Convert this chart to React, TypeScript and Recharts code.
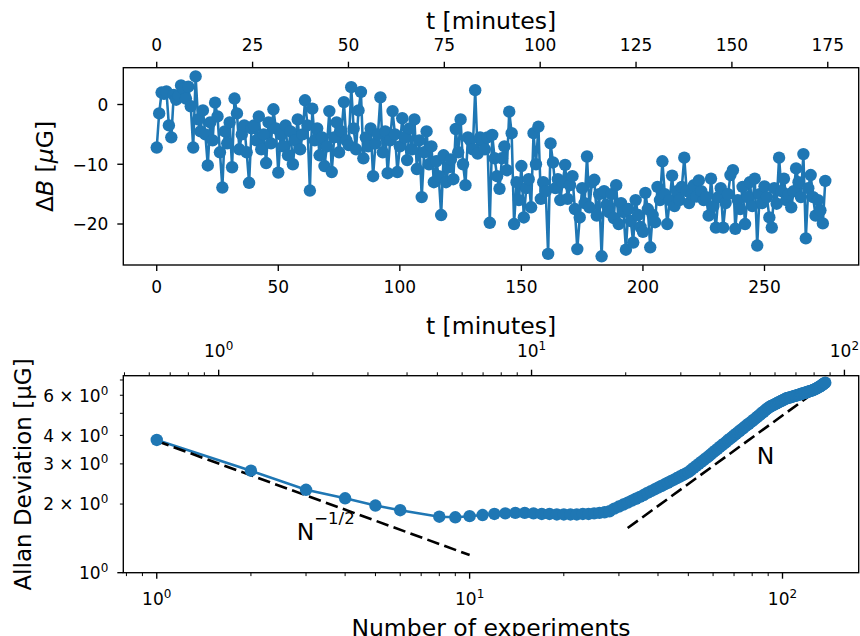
import { ComposedChart, Line, XAxis, YAxis } from 'recharts'

const BLUE = '#1f77b4'
const FONT = 'DejaVu Sans'

// one experiment takes this many minutes (secondary top axes)
const MIN_PER_EXP = 0.634

const deltaB = [
  -7.2, -1.5, 2.0, 1.8, 2.2, -3.5, -5.5, 1.6, 0.8, 1.5,
  3.2, 2.6, 1.0, 3.0, -0.3, -7.2, 4.7, -2.5, -4.5, -1.0,
  -5.0, -10.2, -3.0, -6.0, 0.3, -2.0, -8.0, -13.9, -4.5, -6.5,
  -3.0, -10.5, 1.0, -1.5, -7.5, -5.0, -3.5, -8.0, -13.1, -4.0,
  -3.5, -6.0, -2.0, -7.5, -5.0, -9.8, -3.0, -6.5, -0.8, -4.0,
  -11.4, -5.0, -7.0, -3.5, -8.5, -4.5, -10.0, -6.0, -2.5, -7.5,
  -5.0, 0.7, -3.5, -14.4, -0.7, -6.0, -4.0, -8.5, -5.5, -10.3,
  -7.0, -1.1, -11.3, -5.5, -3.0, -8.0, -4.5, 0.4, -6.0, -6.8,
  2.9, -4.0, -7.5, -1.0, 2.1, -9.0, -5.5, -7.0, -4.0, -12.0,
  -6.5, -5.0, 1.2, -8.0, -4.5, -11.5, -6.0, -1.1, -5.0, -11.3,
  -7.0, -2.3, -5.5, -9.3, -4.0, -7.5, -2.5, -10.8, -6.0, -15.5,
  -8.0, -4.5, -10.0, -7.0, -13.0, -9.5, -12.0, -18.5, -8.5, -13.0,
  -10.5, -9.2, -12.5, -4.1, -8.0, -2.5, -10.0, -13.5, -5.5, -6.0,
  -7.5, 2.4, -8.2, -5.5, -6.0, -7.5, -5.5, -19.8, -5.1, -9.0,
  -12.0, -14.1, -9.0, -7.0, -11.0, -1.2, -4.8, -20.0, -13.0, -16.0,
  -10.3, -18.9, -14.0, -12.5, -17.2, -4.8, -10.0, -3.7, -15.8, -13.0,
  -14.5, -25.0, -6.5, -9.7, -14.0, -12.5, -16.0, -13.0, -10.1, -15.8,
  -13.5, -12.0, -17.5, -24.2, -18.9, -14.0, -16.5, -8.7, -17.2, -13.0,
  -12.6, -18.6, -15.0, -25.4, -14.5, -16.8, -18.0, -15.0, -19.0, -13.5,
  -20.0, -16.5, -18.0, -24.3, -17.5, -19.5, -23.1, -16.0, -18.5, -20.5,
  -21.3, -14.8, -17.5, -23.9, -18.5, -19.7, -13.8, -16.0, -9.5, -15.0,
  -20.0, -16.0, -11.9, -17.0, -14.5, -16.0, -13.8, -8.9, -14.5, -16.5,
  -15.0, -13.5, -15.4, -12.7, -14.5, -16.0, -15.5, -18.6, -12.4, -17.0,
  -20.6, -15.5, -14.0, -20.6, -16.5, -15.0, -11.8, -11.0, -20.8, -16.0,
  -17.5, -13.8, -20.0, -15.5, -13.0, -17.0, -12.4, -23.6, -15.0, -16.5,
  -13.7, -15.5, -18.9, -20.6, -14.0, -16.6, -8.9, -14.5, -12.4, -16.0,
  -15.0, -17.2, -14.5, -10.7, -13.0, -15.5, -8.3, -22.4, -14.0, -11.8,
  -15.5, -18.6, -16.0, -17.7, -19.9, -12.8,
]

// averaging sizes (7 is not in the plot) and the Allan deviation for each
const avgN = [
  1, 2, 3, 4, 5, 6, 8, 9, 10, 11, 12, 13, 14, 15, 16, 17, 18, 19, 20,
  21, 22, 23, 24, 25, 26, 27, 28, 29, 30, 31, 32, 33, 34, 35, 36, 37, 38, 39, 40,
  41, 42, 43, 44, 45, 46, 47, 48, 49, 50, 51, 52, 53, 54, 55, 56, 57, 58, 59, 60,
  61, 62, 63, 64, 65, 66, 67, 68, 69, 70, 71, 72, 73, 74, 75, 76, 77, 78, 79, 80,
  81, 82, 83, 84, 85, 86, 87, 88, 89, 90, 91, 92, 93, 94, 95, 96, 97, 98, 99, 100,
  101, 102, 103, 104, 105, 106, 107, 108, 109, 110, 111, 112, 113, 114, 115, 116, 117, 118, 119, 120,
  121, 122, 123, 124, 125, 126, 127, 128, 129, 130, 131, 132, 133, 134, 135, 136, 137,
]
const allanDev = [
  3.82, 2.80, 2.31, 2.12, 1.97, 1.88, 1.76, 1.75, 1.77, 1.79, 1.81, 1.82, 1.83, 1.83, 1.82, 1.81, 1.81, 1.80, 1.80,
  1.80, 1.80, 1.81, 1.81, 1.82, 1.83, 1.84, 1.86, 1.91, 1.95, 1.99, 2.03, 2.07, 2.11, 2.15, 2.19, 2.24, 2.28, 2.32, 2.36,
  2.40, 2.44, 2.48, 2.52, 2.56, 2.60, 2.64, 2.68, 2.72, 2.76, 2.82, 2.88, 2.94, 3.00, 3.06, 3.12, 3.18, 3.24, 3.30, 3.37,
  3.43, 3.49, 3.56, 3.62, 3.68, 3.74, 3.81, 3.87, 3.93, 4.00, 4.06, 4.12, 4.19, 4.25, 4.31, 4.38, 4.44, 4.50, 4.56, 4.62,
  4.69, 4.75, 4.82, 4.89, 4.95, 5.02, 5.08, 5.15, 5.21, 5.28, 5.34, 5.38, 5.42, 5.46, 5.50, 5.54, 5.58, 5.62, 5.66, 5.70,
  5.74, 5.78, 5.82, 5.84, 5.86, 5.88, 5.90, 5.93, 5.95, 5.97, 5.99, 6.02, 6.04, 6.06, 6.09, 6.11, 6.13, 6.15, 6.18, 6.20,
  6.22, 6.25, 6.27, 6.29, 6.32, 6.35, 6.38, 6.41, 6.45, 6.49, 6.53, 6.57, 6.62, 6.67, 6.71, 6.76, 6.81,
]

// dashed guide lines (end points)
const halfSlopeN = [1, 10]
const halfSlopeDev = [3.78, 1.195]
const unitSlopeN = [32, 134]
const unitSlopeDev = [1.57, 6.55]

// ticks
const topXTicks = [0, 50, 100, 150, 200, 250]
const topTTicks = [0, 25, 50, 75, 100, 125, 150, 175]
const topYTicks = [-20, -10, 0]
const logNTicks = [0.8, 0.9, 1, 2, 3, 4, 5, 6, 7, 8, 9, 10, 20, 30, 40, 50, 60, 70, 80, 90, 100]
const logTTicks = [0.5, 0.6, 0.7, 0.8, 0.9, 1, 2, 3, 4, 5, 6, 7, 8, 9, 10, 20, 30, 40, 50, 60, 70, 80, 90, 100]
const logYTicks = [1, 2, 3, 4, 5, 6, 7]
const logYLabelled = [2, 3, 4, 6]

const topRows = deltaB.map((v, i) => ({ n: i, t: i * MIN_PER_EXP, dB: v }))
const allanRows = avgN.map((n, i) => ({ n, t: n * MIN_PER_EXP, adev: allanDev[i] }))
const halfRows = halfSlopeN.map((n, i) => ({ n, ref: halfSlopeDev[i] }))
const unitRows = unitSlopeN.map((n, i) => ({ n, ref: unitSlopeDev[i] }))

const nDomainTop: [number, number] = [-13.75, 288.75]
const nDomainLog: [number, number] = [0.7818, 175.2]

type Side = 'bottom' | 'top' | 'left'

const isDecade = (v: number) => Math.abs(Math.log10(v) - Math.round(Math.log10(v))) < 1e-9

function linLabel(v: number) {
  return v < 0 ? `\u2212${Math.abs(v)}` : `${v}`
}

function Pow10({ k }: { k: number }) {
  return (
    <>
      10<tspan dy={-7} fontSize={12}>{k}</tspan>
    </>
  )
}

function makeTick(side: Side, kind: 'lin' | 'logx' | 'logy') {
  return (props: any) => {
    const { x, y, payload } = props
    const v: number = payload.value
    let major = true
    let label: any = null
    if (kind === 'lin') {
      label = linLabel(v)
    } else if (kind === 'logx') {
      major = isDecade(v)
      if (major) label = <Pow10 k={Math.round(Math.log10(v))} />
    } else {
      major = v === 1
      if (v === 1) label = <Pow10 k={0} />
      else if (logYLabelled.includes(v)) label = <>{v}{' \u00d7 '}<Pow10 k={0} /></>
    }
    const len = major ? 6 : 3.4
    const sw = major ? 1.36 : 1
    if (side === 'left') {
      return (
        <g>
          <line x1={x - len} x2={x} y1={y} y2={y} stroke="#000" strokeWidth={sw} />
          {label !== null && (
            <text x={x - 15} y={y + 6.3} textAnchor="end" fontSize={17} fontFamily={FONT} fill="#000">
              {label}
            </text>
          )}
        </g>
      )
    }
    const dir = side === 'bottom' ? 1 : -1
    const base = side === 'bottom' ? (kind === 'lin' ? 27.7 : 32.3) : kind === 'lin' ? -17 : -19
    return (
      <g>
        <line x1={x} x2={x} y1={y} y2={y + dir * len} stroke="#000" strokeWidth={sw} />
        {label !== null && (
          <text x={x} y={y + base} textAnchor="middle" fontSize={17} fontFamily={FONT} fill="#000">
            {label}
          </text>
        )}
      </g>
    )
  }
}

const axisCommon = {
  tickSize: 0,
  tickMargin: 0,
  tickLine: false,
  axisLine: false,
  interval: 0 as const,
  allowDataOverflow: true,
}

const dotStyle = { r: 6.2, fill: BLUE, stroke: 'none' }

function TimeSeriesPanel() {
  return (
    <ComposedChart
      width={860}
      height={300}
      data={topRows}
      margin={{ top: 37.7, right: 1.3, bottom: 5, left: 63.3 }}
    >
      <XAxis
        xAxisId="b"
        dataKey="n"
        type="number"
        domain={nDomainTop}
        ticks={topXTicks}
        height={30}
        tick={makeTick('bottom', 'lin')}
        {...axisCommon}
      />
      <XAxis
        xAxisId="t"
        dataKey="t"
        orientation="top"
        type="number"
        domain={[nDomainTop[0] * MIN_PER_EXP, nDomainTop[1] * MIN_PER_EXP]}
        ticks={topTTicks}
        height={30}
        tick={makeTick('top', 'lin')}
        {...axisCommon}
      />
      <YAxis
        type="number"
        domain={[-26.86, 6.16]}
        ticks={topYTicks}
        width={60}
        tick={makeTick('left', 'lin')}
        {...axisCommon}
      />
      {/* invisible twin so the minutes axis gets its own scale */}
      <Line
        xAxisId="t"
        dataKey="dB"
        stroke="none"
        dot={false}
        activeDot={false}
        legendType="none"
        isAnimationActive={false}
      />
      <Line
        xAxisId="b"
        dataKey="dB"
        type="linear"
        stroke={BLUE}
        strokeWidth={2.55}
        dot={dotStyle}
        activeDot={false}
        isAnimationActive={false}
      />
    </ComposedChart>
  )
}

function AllanPanel() {
  return (
    <ComposedChart
      width={860}
      height={326}
      data={allanRows}
      margin={{ top: 35.7, right: 1.3, bottom: 33.3, left: 63.3 }}
    >
      <XAxis
        xAxisId="b"
        dataKey="n"
        type="number"
        scale="log"
        domain={nDomainLog}
        ticks={logNTicks}
        height={30}
        tick={makeTick('bottom', 'logx')}
        {...axisCommon}
      />
      <XAxis
        xAxisId="t"
        dataKey="t"
        orientation="top"
        type="number"
        scale="log"
        domain={[nDomainLog[0] * MIN_PER_EXP, nDomainLog[1] * MIN_PER_EXP]}
        ticks={logTTicks}
        height={30}
        tick={makeTick('top', 'logx')}
        {...axisCommon}
      />
      <YAxis
        type="number"
        scale="log"
        domain={[1, 7.31]}
        ticks={logYTicks}
        width={60}
        tick={makeTick('left', 'logy')}
        {...axisCommon}
      />
      <Line
        xAxisId="t"
        dataKey="adev"
        stroke="none"
        dot={false}
        activeDot={false}
        legendType="none"
        isAnimationActive={false}
      />
      <Line
        xAxisId="b"
        dataKey="adev"
        type="linear"
        stroke={BLUE}
        strokeWidth={2.55}
        dot={dotStyle}
        activeDot={false}
        isAnimationActive={false}
      />
      <Line
        xAxisId="b"
        data={halfRows}
        dataKey="ref"
        type="linear"
        stroke="#000"
        strokeWidth={2.6}
        strokeDasharray="12.6 5.4"
        dot={false}
        activeDot={false}
        isAnimationActive={false}
      />
      <Line
        xAxisId="b"
        data={unitRows}
        dataKey="ref"
        type="linear"
        stroke="#000"
        strokeWidth={2.6}
        strokeDasharray="12.6 5.4"
        dot={false}
        activeDot={false}
        isAnimationActive={false}
      />
    </ComposedChart>
  )
}

export default function App() {
  const txt = { fontFamily: FONT, fill: '#000' }
  return (
    <div
      style={{
        position: 'absolute',
        left: 0,
        top: 0,
        width: 860,
        height: 636,
        overflow: 'hidden',
        background: '#fff',
      }}
    >
      <div style={{ position: 'absolute', left: 0, top: 0 }}>
        <TimeSeriesPanel />
      </div>
      <div style={{ position: 'absolute', left: 0, top: 310 }}>
        <AllanPanel />
      </div>
      <svg
        width={860}
        height={636}
        style={{ position: 'absolute', left: 0, top: 0, pointerEvents: 'none' }}
      >
        <rect x={123.3} y={67.7} width={735.4} height={197.3} fill="none" stroke="#000" strokeWidth={1.36} />
        <rect x={123.3} y={375.7} width={735.4} height={197} fill="none" stroke="#000" strokeWidth={1.36} />

        <text x={491} y={29} textAnchor="middle" fontSize={23.5} {...txt}>t [minutes]</text>
        <text x={491} y={334} textAnchor="middle" fontSize={23.5} {...txt}>t [minutes]</text>
        <text x={491} y={636} textAnchor="middle" fontSize={23.5} {...txt}>Number of experiments</text>

        <text x={53} y={166.5} transform="rotate(-90 53 166.5)" textAnchor="middle" fontSize={23.5} {...txt}>
          {'\u0394'}<tspan fontStyle="italic">B</tspan> [<tspan fontStyle="italic">{'\u03bc'}</tspan>G]
        </text>
        <text x={31} y={474.5} transform="rotate(-90 31 474.5)" textAnchor="middle" fontSize={23} {...txt}>
          Allan Deviation [{'\u03bc'}G]
        </text>

        <text x={296.7} y={540} fontSize={23.5} {...txt}>
          N<tspan dy={-16} fontSize={16.5}>{'\u22121/2'}</tspan>
        </text>
        <text x={756.7} y={464} fontSize={23.5} {...txt}>N</text>
      </svg>
    </div>
  )
}
